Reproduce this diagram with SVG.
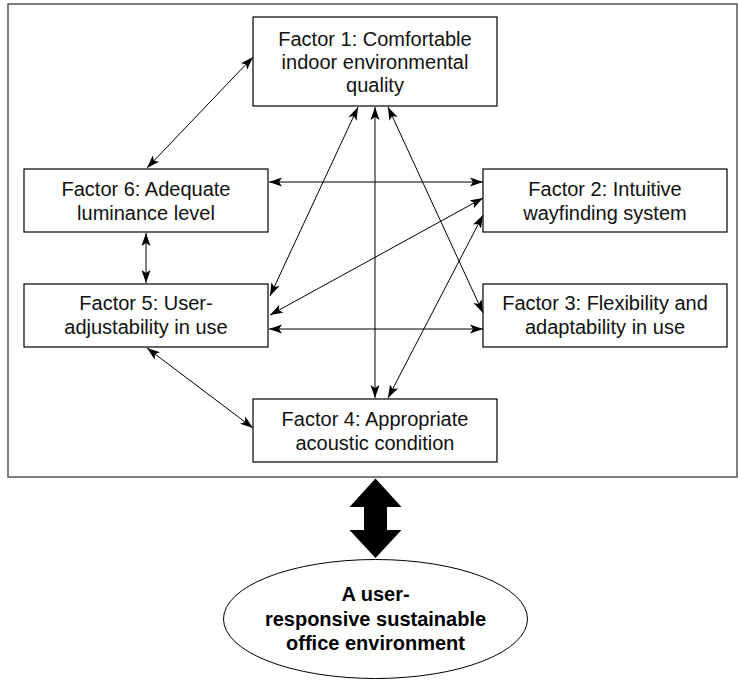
<svg xmlns="http://www.w3.org/2000/svg" width="738" height="680" viewBox="0 0 738 680">
<style>
.box{fill:#fff;stroke:#000;stroke-width:1.2}
.t{font-family:"Liberation Sans",Arial,Helvetica,sans-serif;font-size:20px;fill:#111;text-anchor:middle}
.tb{font-family:"Liberation Sans",Arial,Helvetica,sans-serif;font-size:20px;font-weight:bold;fill:#000;text-anchor:middle}
.c{fill:none;stroke:#000;stroke-width:1;marker-start:url(#ah);marker-end:url(#ah)}
</style>
<defs>
<marker id="ah" markerUnits="userSpaceOnUse" markerWidth="14" markerHeight="10" viewBox="0 0 14 10" refX="13" refY="5" orient="auto-start-reverse">
<path d="M0,0.5 L13,5 L0,9.5 L3,5 Z" fill="#000"/>
</marker>
</defs>
<rect x="8" y="4" width="729" height="473" fill="#fff" stroke="#555" stroke-width="1.5"/>
<g id="connectors">
<line class="c" x1="147" y1="168" x2="253" y2="57"/>
<line class="c" x1="269" y1="182" x2="483" y2="182"/>
<line class="c" x1="146" y1="233" x2="146" y2="283"/>
<line class="c" x1="270" y1="296" x2="358" y2="107"/>
<line class="c" x1="375" y1="107" x2="375" y2="398"/>
<line class="c" x1="388" y1="107" x2="483" y2="313"/>
<line class="c" x1="270" y1="315" x2="483" y2="198"/>
<line class="c" x1="388" y1="398" x2="483" y2="215"/>
<line class="c" x1="269" y1="329" x2="483" y2="329"/>
<line class="c" x1="147" y1="348" x2="253" y2="428"/>
<polygon points="375.5,478.5 401.5,507 387,507 387,530 401.5,530 375.5,558 349.5,530 364,530 364,507 349.5,507" fill="#000"/>
</g>
<g id="factor1">
<rect class="box" x="253" y="17" width="244" height="89"/>
<text class="t" x="375" y="45.5">Factor 1: Comfortable</text>
<text class="t" x="375" y="68.5">indoor environmental</text>
<text class="t" x="375" y="91.5">quality</text>
</g>
<g id="factor6">
<rect class="box" x="24" y="169" width="244" height="63"/>
<text class="t" x="146" y="196">Factor 6: Adequate</text>
<text class="t" x="146" y="220">luminance level</text>
</g>
<g id="factor2">
<rect class="box" x="483" y="169" width="244" height="63"/>
<text class="t" x="605" y="196">Factor 2: Intuitive</text>
<text class="t" x="605" y="220">wayfinding system</text>
</g>
<g id="factor5">
<rect class="box" x="24" y="284" width="244" height="63"/>
<text class="t" x="146" y="310">Factor 5: User-</text>
<text class="t" x="146" y="334">adjustability in use</text>
</g>
<g id="factor3">
<rect class="box" x="483" y="284" width="244" height="63"/>
<text class="t" x="605" y="310">Factor 3: Flexibility and</text>
<text class="t" x="605" y="334">adaptability in use</text>
</g>
<g id="factor4">
<rect class="box" x="253" y="399" width="244" height="63"/>
<text class="t" x="375" y="426">Factor 4: Appropriate</text>
<text class="t" x="375" y="450">acoustic condition</text>
</g>
<g id="outcome">
<ellipse cx="375.5" cy="619" rx="152" ry="59.5" fill="#fff" stroke="#000" stroke-width="1"/>
<text class="tb" x="375.5" y="600.5">A user-</text>
<text class="tb" x="375.5" y="626">responsive sustainable</text>
<text class="tb" x="375.5" y="650">office environment</text>
</g>
</svg>
